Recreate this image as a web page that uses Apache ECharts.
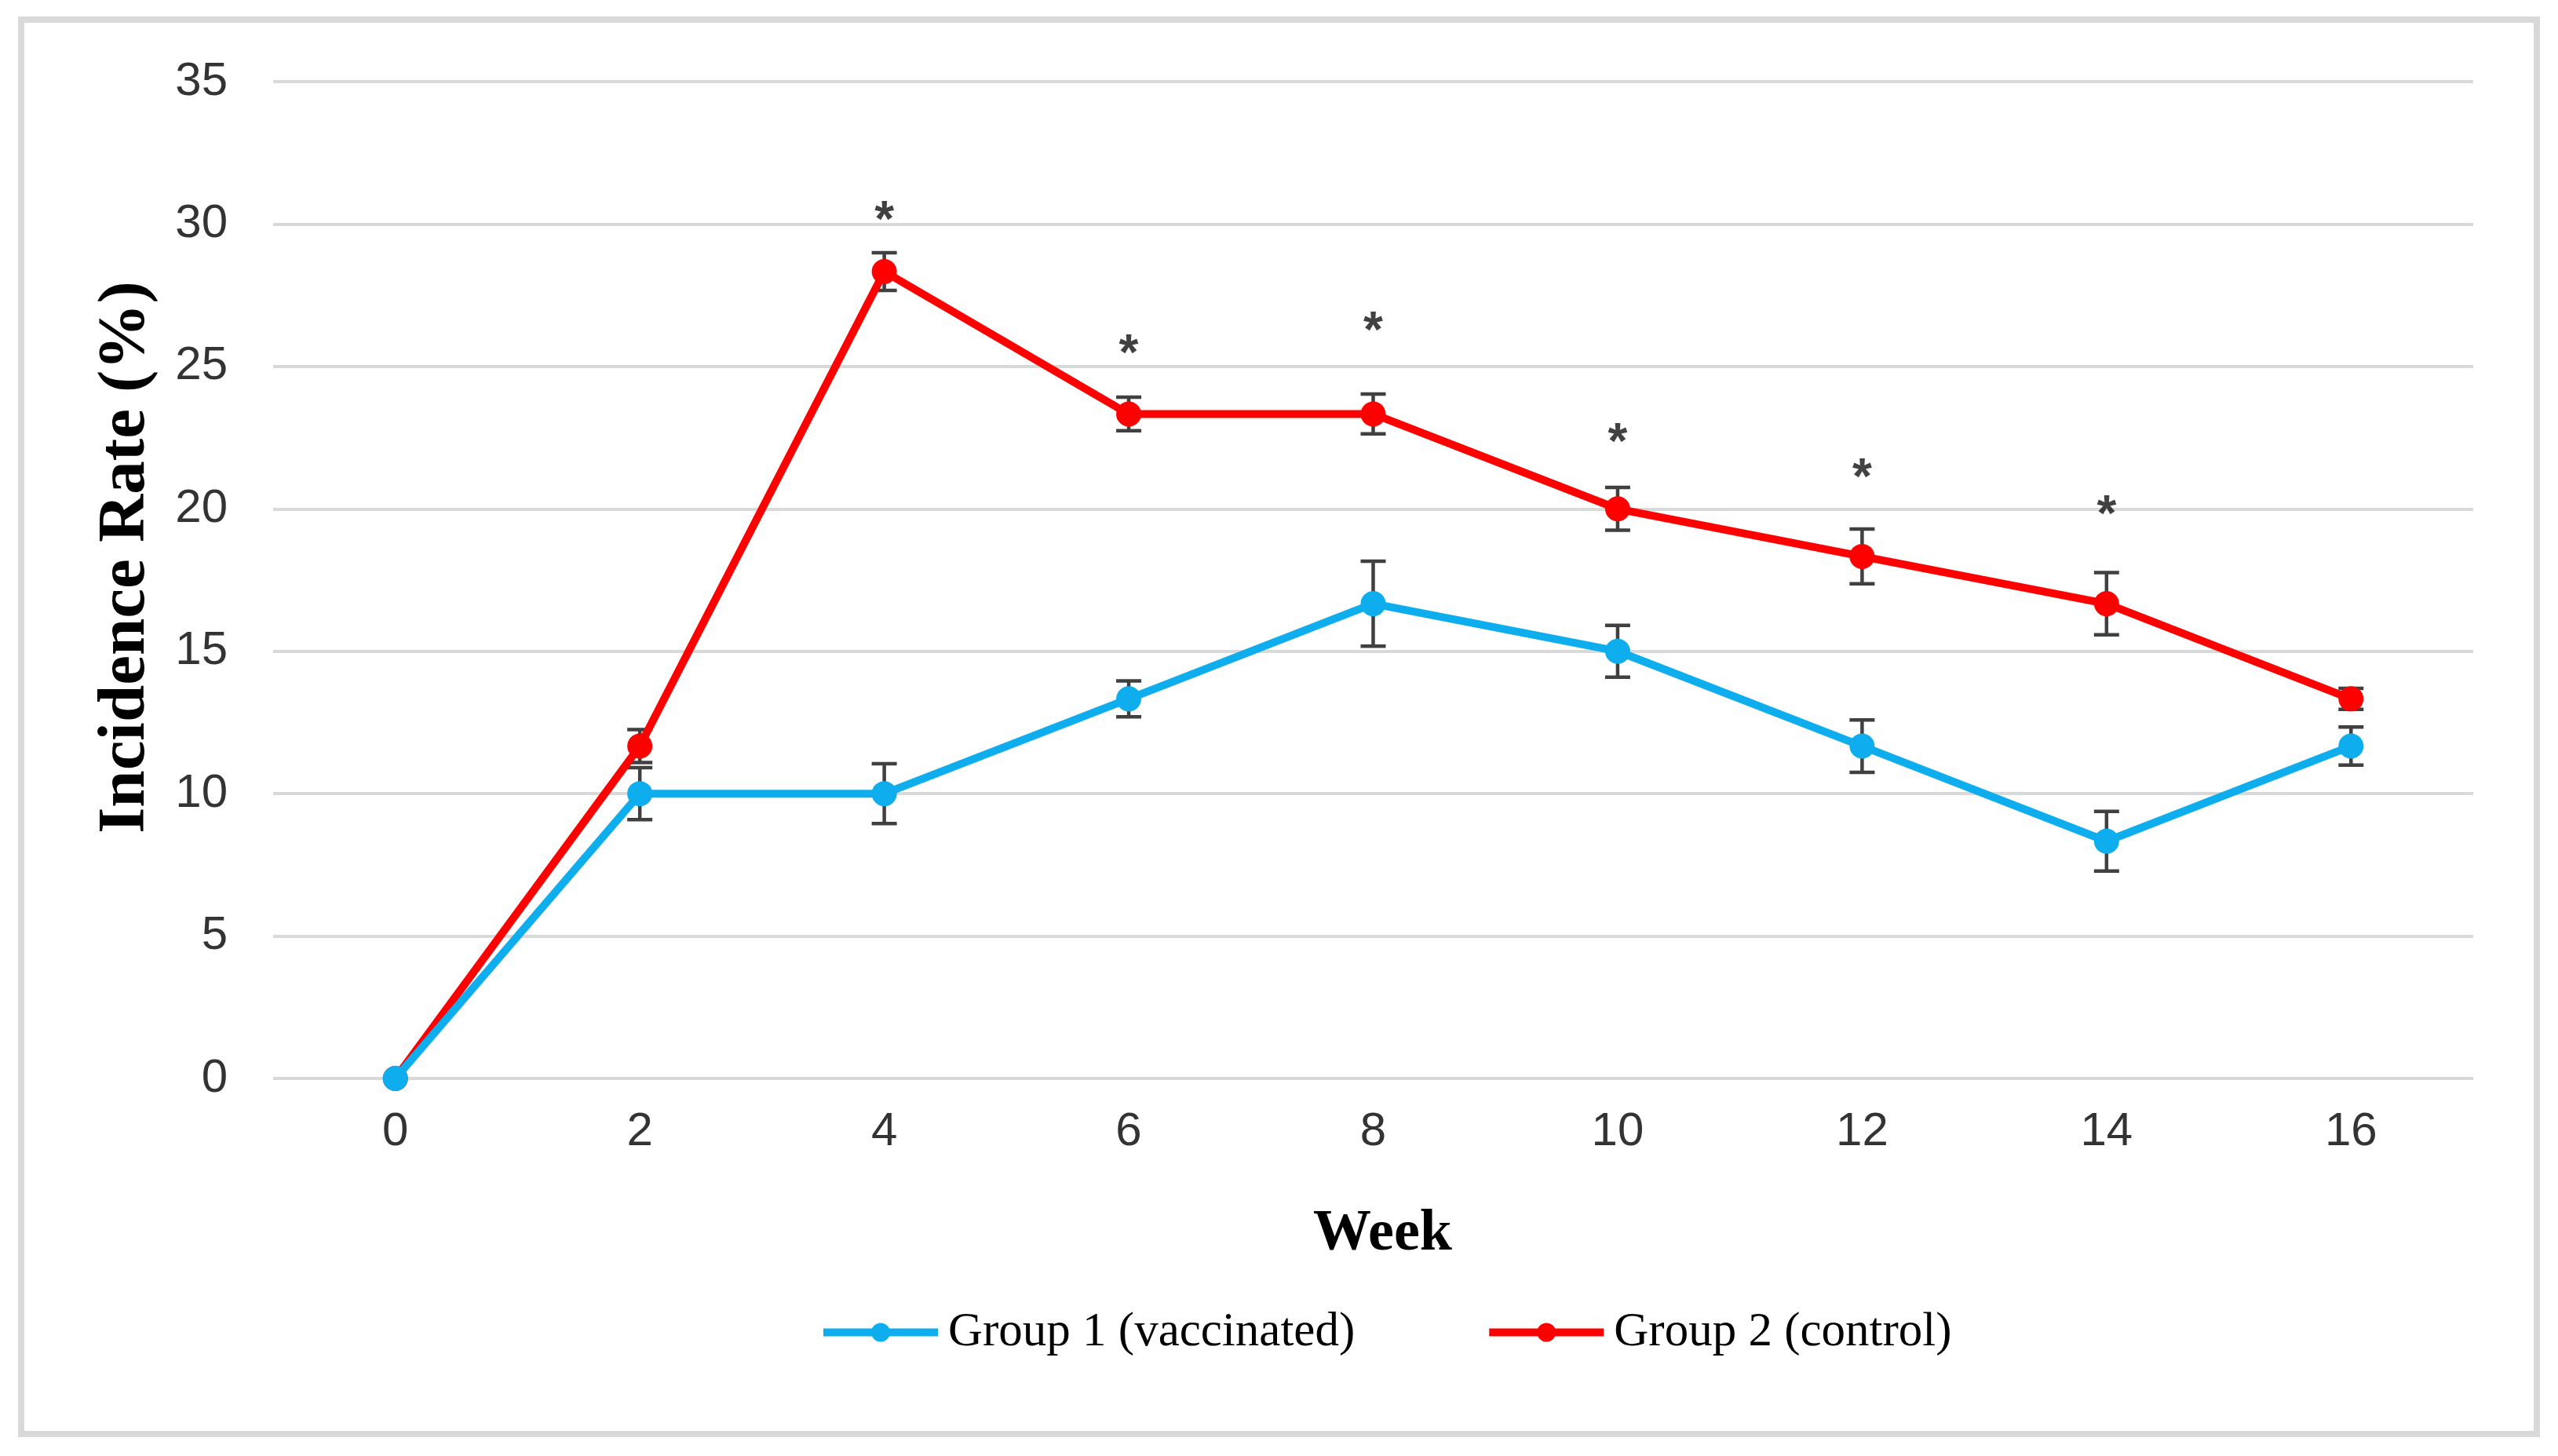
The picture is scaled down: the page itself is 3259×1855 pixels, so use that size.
<!DOCTYPE html>
<html>
<head>
<meta charset="utf-8">
<script src="https://cdn.jsdelivr.net/npm/echarts@6/dist/echarts.min.js"></script>
<style>
html,body{margin:0;padding:0;background:#fff;}
#chart{width:3259px;height:1855px;}
</style>
</head>
<body>
<div id="chart"></div>
<script>
const weeks = ['0', '2', '4', '6', '8', '10', '12', '14', '16'];
const group1 = [0, 10, 10, 13.33, 16.67, 15, 11.67, 8.33, 11.67];
const group2 = [0, 11.67, 28.33, 23.33, 23.33, 20, 18.33, 16.67, 13.33];
const group1Err = [0, 0.91, 1.05, 0.63, 1.49, 0.91, 0.92, 1.05, 0.67];
const group2Err = [0, 0.58, 0.66, 0.59, 0.70, 0.75, 0.96, 1.09, 0.37];
const starWeeks = ['4', '6', '8', '10', '12', '14'];
const starLevels = [30.5, 25.8, 26.6, 22.7, 21.45, 20.15];
const yTicks = [0, 5, 10, 15, 20, 25, 30, 35];
const seriesNames = ['Group 1 (vaccinated)', 'Group 2 (control)'];

const BLUE = '#0EAEEE';
const RED = '#FF0000';

function errData(vals, errs) {
  const out = [];
  vals.forEach((v, i) => { if (errs[i] > 0) out.push([i, v - errs[i], v + errs[i]]); });
  return out;
}
function renderErr(params, api) {
  const x = api.value(0);
  const lo = api.coord([x, api.value(1)]);
  const hi = api.coord([x, api.value(2)]);
  const hw = 16;
  const st = { stroke: '#404040', lineWidth: 4.5 };
  return {
    type: 'group',
    children: [
      { type: 'line', shape: { x1: lo[0], y1: lo[1], x2: hi[0], y2: hi[1] }, style: st },
      { type: 'line', shape: { x1: lo[0] - hw, y1: lo[1], x2: lo[0] + hw, y2: lo[1] }, style: st },
      { type: 'line', shape: { x1: hi[0] - hw, y1: hi[1], x2: hi[0] + hw, y2: hi[1] }, style: st }
    ]
  };
}

const chart = echarts.init(document.getElementById('chart'), null, { renderer: 'canvas' });
chart.setOption({
  animation: false,
  backgroundColor: '#ffffff',
  grid: { left: 348, right: 108, top: 104, bottom: 481, containLabel: false, outerBoundsMode: 'none' },
  xAxis: {
    type: 'category',
    data: weeks,
    boundaryGap: true,
    axisLine: { show: false },
    axisTick: { show: false },
    axisLabel: { margin: 38, fontFamily: 'Liberation Sans', fontSize: 60, color: '#333333' },
    name: 'Week',
    nameLocation: 'middle',
    nameGap: 162,
    nameTextStyle: { fontFamily: 'Liberation Serif', fontWeight: 'bold', fontSize: 74, color: '#000000', padding: [0, 0, 0, 24] }
  },
  yAxis: {
    type: 'value',
    min: 0,
    max: 35,
    interval: 5,
    axisLine: { show: false },
    axisTick: { show: false },
    axisLabel: { margin: 58, fontFamily: 'Liberation Sans', fontSize: 60, color: '#333333',
      formatter: v => (yTicks.indexOf(v) >= 0 ? String(v) : '') },
    splitLine: { show: true, lineStyle: { color: '#D9D9D9', width: 4 } }
  },
  legend: {
    data: seriesNames,
    left: 1039,
    top: 1662,
    itemWidth: 146,
    itemHeight: 30,
    itemGap: 166,
    lineStyle: { width: 10 },
    textStyle: { fontFamily: 'Liberation Serif', fontSize: 61, color: '#000000', padding: [0, 0, 0, 8] }
  },
  graphic: [
    {
      type: 'rect',
      shape: { x: 27, y: 25, width: 3205, height: 1802 },
      style: { fill: 'none', stroke: '#D9D9D9', lineWidth: 8 },
      silent: true
    },
    {
      type: 'text',
      x: 161,
      y: 710,
      rotation: Math.PI / 2,
      style: {
        text: 'Incidence Rate (%)',
        font: 'bold 85px "Liberation Serif"',
        fill: '#000000',
        align: 'center',
        verticalAlign: 'middle'
      },
      silent: true
    }
  ],
  series: [
    {
      type: 'custom',
      name: 'err2',
      renderItem: renderErr,
      data: errData(group2, group2Err),
      z: 1,
      silent: true
    },
    {
      type: 'custom',
      name: 'err1',
      renderItem: renderErr,
      data: errData(group1, group1Err),
      z: 1,
      silent: true
    },
    {
      type: 'line',
      name: seriesNames[1],
      data: group2,
      symbol: 'circle',
      symbolSize: 32,
      lineStyle: { color: RED, width: 10 },
      itemStyle: { color: RED },
      z: 3
    },
    {
      type: 'line',
      name: seriesNames[0],
      data: group1,
      symbol: 'circle',
      symbolSize: 32,
      lineStyle: { color: BLUE, width: 10 },
      itemStyle: { color: BLUE },
      z: 4
    },
    {
      type: 'scatter',
      name: 'significance',
      data: starWeeks.map((w, i) => [w, starLevels[i]]),
      symbolSize: 0,
      silent: true,
      label: {
        show: true,
        position: 'inside',
        formatter: '*',
        fontFamily: 'Liberation Sans',
        fontWeight: 'bold',
        fontSize: 64,
        color: '#111111',
        offset: [0, 16]
      },
      z: 5
    }
  ]
});
</script>
</body>
</html>
